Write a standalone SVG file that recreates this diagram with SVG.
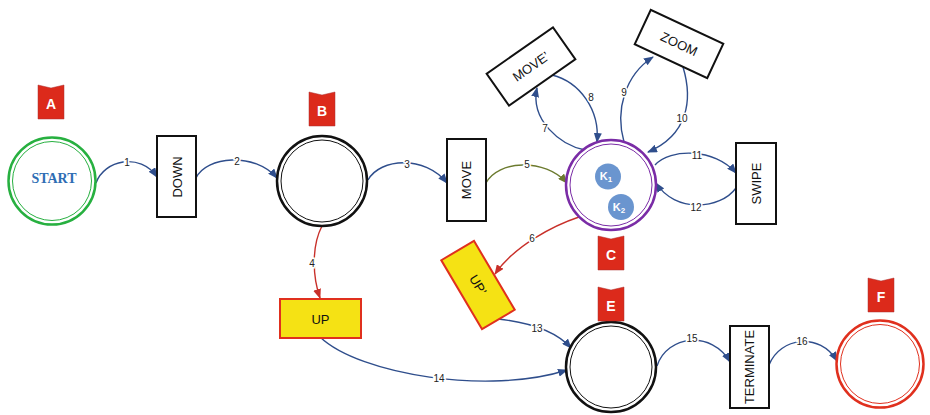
<svg xmlns="http://www.w3.org/2000/svg" width="930" height="415" viewBox="0 0 930 415">
<defs>
<style>
.box{fill:#fff;stroke:#111;stroke-width:2}
.ybox{fill:#f5e214;stroke:#e0301e;stroke-width:2}
.bt{font-family:"Liberation Sans",Arial,sans-serif;font-size:13px;fill:#111;text-anchor:middle;dominant-baseline:central}
.flag{fill:#dc2a1b;stroke:#a33;stroke-width:0.5}
.ft{font-family:"Liberation Sans",Arial,sans-serif;font-weight:bold;font-size:14px;fill:#fff;text-anchor:middle;dominant-baseline:central}
.e{fill:none;stroke:#2f4e8c;stroke-width:1.4}
.er{fill:none;stroke:#c8302a;stroke-width:1.4}
.eg{fill:none;stroke:#6b7a2e;stroke-width:1.4}
.lb{font-family:"Liberation Sans",Arial,sans-serif;font-size:10px;fill:#222;text-anchor:middle;dominant-baseline:central;paint-order:stroke;stroke:#fff;stroke-width:3}
.k{fill:#6a95cf}
.kt{font-family:"Liberation Sans",Arial,sans-serif;font-weight:bold;font-size:11px;fill:#fff;text-anchor:middle;dominant-baseline:central}
</style>
<marker id="ab" viewBox="0 0 10 8" refX="9" refY="4" markerWidth="10" markerHeight="8" markerUnits="userSpaceOnUse" orient="auto"><path d="M0,0 L10,4 L0,8 z" fill="#2f4e8c"/></marker>
<marker id="ar" viewBox="0 0 10 8" refX="9" refY="4" markerWidth="10" markerHeight="8" markerUnits="userSpaceOnUse" orient="auto"><path d="M0,0 L10,4 L0,8 z" fill="#c8302a"/></marker>
<marker id="ag" viewBox="0 0 10 8" refX="9" refY="4" markerWidth="10" markerHeight="8" markerUnits="userSpaceOnUse" orient="auto"><path d="M0,0 L10,4 L0,8 z" fill="#6b7a2e"/></marker>
<path id="flagshape" d="M0,0 L13,3 L26,0 L26,34 L0,34 Z"/>
</defs>

<g id="connectors">
<path class="e" d="M96,183 C104,160 140,152 157,177" marker-end="url(#ab)"/>
<path class="e" d="M196,178 C206,156 255,152 277,178" marker-end="url(#ab)"/>
<path class="e" d="M368,180 C380,158 425,155 447,183" marker-end="url(#ab)"/>
<path class="er" d="M322,226 C312,245 312,275 320,298" marker-end="url(#ar)"/>
<path class="eg" d="M486,183 C498,160 545,158 567,183" marker-end="url(#ag)"/>
<path class="er" d="M579,217 C555,225 515,245 495,274" marker-end="url(#ar)"/>
<path class="e" d="M585,150 C560,145 530,120 537,88" marker-end="url(#ab)"/>
<path class="e" d="M552,75 C580,82 600,110 597,142" marker-end="url(#ab)"/>
<path class="e" d="M624,142 C615,110 625,75 653,57" marker-end="url(#ab)"/>
<path class="e" d="M683,67 C693,100 688,135 648,152" marker-end="url(#ab)"/>
<path class="e" d="M655,165 C670,148 715,148 736,173" marker-end="url(#ab)"/>
<path class="e" d="M736,188 C720,210 675,213 656,183" marker-end="url(#ab)"/>
<path class="e" d="M498,319 C525,322 555,330 571,348" marker-end="url(#ab)"/>
<path class="e" d="M320,337 C360,375 490,395 567,370" marker-end="url(#ab)"/>
<path class="e" d="M657,366 C667,335 712,330 730,362" marker-end="url(#ab)"/>
<path class="e" d="M769,365 C780,337 820,332 837,361" marker-end="url(#ab)"/>
<text class="lb" x="127" y="162">1</text>
<text class="lb" x="237" y="161">2</text>
<text class="lb" x="407" y="164">3</text>
<text class="lb" x="312" y="263">4</text>
<text class="lb" x="527" y="164">5</text>
<text class="lb" x="532" y="238">6</text>
<text class="lb" x="545" y="128">7</text>
<text class="lb" x="591" y="97">8</text>
<text class="lb" x="624" y="92">9</text>
<text class="lb" x="682" y="118">10</text>
<text class="lb" x="697" y="155">11</text>
<text class="lb" x="696" y="207">12</text>
<text class="lb" x="537" y="328">13</text>
<text class="lb" x="439" y="378">14</text>
<text class="lb" x="692" y="338">15</text>
<text class="lb" x="802" y="341">16</text>
</g>

<g id="start">
<circle cx="52" cy="181" r="43.5" fill="#fff" stroke="#27b040" stroke-width="2.5"/>
<circle cx="52" cy="181" r="39.5" fill="none" stroke="#27b040" stroke-width="1"/>
<text x="54" y="178" font-family="'Liberation Serif','Times New Roman',serif" font-weight="bold" font-size="14" fill="#2e6db4" text-anchor="middle" dominant-baseline="central">START</text>
</g>
<g id="flagA"><use href="#flagshape" x="38" y="85" class="flag"/><text class="ft" x="51" y="104">A</text></g>

<g id="down"><rect class="box" x="157" y="136" width="39" height="81"/><text class="bt" transform="translate(177,177) rotate(-90)">DOWN</text></g>

<g id="nodeB">
<circle cx="322" cy="181" r="45" fill="#fff" stroke="#111" stroke-width="2.5"/>
<circle cx="322" cy="181" r="41" fill="none" stroke="#111" stroke-width="1"/>
</g>
<g id="flagB"><use href="#flagshape" x="309" y="92" class="flag"/><text class="ft" x="322" y="111">B</text></g>

<g id="move"><rect class="box" x="447" y="139" width="39" height="82"/><text class="bt" transform="translate(466.5,180) rotate(-90)">MOVE</text></g>

<g id="nodeC">
<circle cx="611" cy="185" r="45" fill="#fff" stroke="#7a2ca6" stroke-width="2.5"/>
<circle cx="611" cy="185" r="41" fill="none" stroke="#7a2ca6" stroke-width="1"/>
<circle class="k" cx="608" cy="176.5" r="13"/>
<text class="kt" x="606" y="176">K<tspan font-size="8" dy="3">1</tspan></text>
<circle class="k" cx="621" cy="207" r="13"/>
<text class="kt" x="619" y="206.5">K<tspan font-size="8" dy="3">2</tspan></text>
</g>
<g id="flagC"><use href="#flagshape" x="598" y="236" class="flag"/><text class="ft" x="611" y="255">C</text></g>

<g id="moveP"><g transform="translate(531,66.5) rotate(-35)"><rect class="box" x="-40.5" y="-19.5" width="81" height="39"/><text class="bt" x="0" y="0">MOVE’</text></g></g>

<g id="zoom"><g transform="translate(679,44) rotate(25)"><rect class="box" x="-40" y="-19" width="80" height="38"/><text class="bt" x="0" y="0">ZOOM</text></g></g>

<g id="swipe"><rect class="box" x="736" y="143" width="40" height="81"/><text class="bt" transform="translate(756,183.5) rotate(-90)">SWIPE</text></g>

<g id="up"><rect class="ybox" x="280" y="299" width="81" height="39"/><text class="bt" x="320.5" y="319" font-size="14">UP</text></g>

<g id="upP"><g transform="translate(478,285) rotate(59.4)"><rect class="ybox" x="-40" y="-19" width="80" height="38"/><text class="bt" x="0" y="0" font-size="14">UP’</text></g></g>

<g id="nodeE">
<circle cx="611" cy="367" r="45" fill="#fff" stroke="#111" stroke-width="2.5"/>
<circle cx="611" cy="367" r="41" fill="none" stroke="#111" stroke-width="1"/>
</g>
<g id="flagE"><use href="#flagshape" x="598" y="287" class="flag"/><text class="ft" x="611" y="306">E</text></g>

<g id="terminate"><rect class="box" x="730" y="326" width="39" height="82"/><text class="bt" transform="translate(749.5,367) rotate(-90)">TERMINATE</text></g>

<g id="nodeF">
<circle cx="880" cy="364" r="43.5" fill="#fff" stroke="#e0301e" stroke-width="2.5"/>
<circle cx="880" cy="364" r="39.5" fill="none" stroke="#e0301e" stroke-width="1"/>
</g>
<g id="flagF"><use href="#flagshape" x="868" y="278" class="flag"/><text class="ft" x="881" y="297">F</text></g>
</svg>
